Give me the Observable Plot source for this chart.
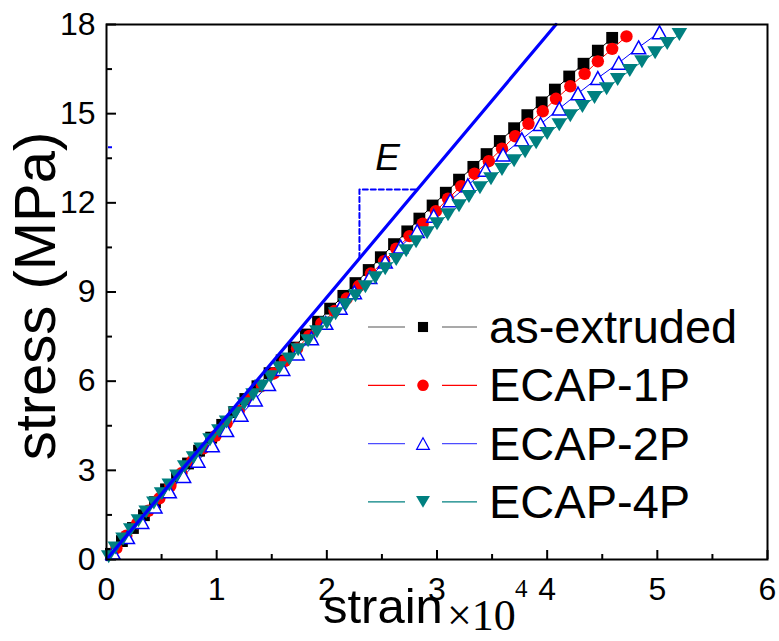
<!DOCTYPE html>
<html>
<head>
<meta charset="utf-8">
<script src="https://cdn.jsdelivr.net/npm/d3@7"></script>
<script src="https://cdn.jsdelivr.net/npm/@observablehq/plot@0.6"></script>
<style>
  body { margin: 0; background: #fff; }
  svg { display: block; }
</style>
</head>
<body>
<div id="chart"></div>
<script>
// ---------------- data (strain in 1e-4, stress in MPa) ----------------
const seriesNames = ["as-extruded", "ECAP-1P", "ECAP-2P", "ECAP-4P"];

const extrudedStrain = [0.04,0.14,0.24,0.34,0.44,0.54,0.64,0.74,0.84,0.95,1.05,1.16,1.26,1.37,1.48,1.59,1.70,1.81,1.92,2.03,2.15,2.26,2.38,2.49,2.61,2.73,2.84,2.96,3.08,3.20,3.33,3.45,3.57,3.70,3.82,3.95,4.07,4.20,4.33,4.46,4.59];
const extrudedStress = [0.19,0.62,1.06,1.49,1.93,2.36,2.79,3.23,3.66,4.10,4.53,4.96,5.40,5.83,6.27,6.70,7.13,7.57,8.00,8.44,8.87,9.30,9.74,10.17,10.61,11.04,11.47,11.91,12.34,12.78,13.21,13.64,14.08,14.51,14.95,15.38,15.81,16.25,16.68,17.12,17.55];

const ecap1Strain = [0.09,0.18,0.28,0.38,0.48,0.58,0.68,0.78,0.88,0.99,1.09,1.20,1.30,1.41,1.52,1.62,1.73,1.84,1.95,2.07,2.18,2.29,2.40,2.52,2.63,2.75,2.87,2.99,3.10,3.22,3.34,3.47,3.59,3.71,3.83,3.96,4.08,4.21,4.34,4.46,4.59,4.72];
const ecap1Stress = [0.38,0.80,1.22,1.64,2.06,2.48,2.90,3.32,3.74,4.16,4.58,5.00,5.42,5.84,6.26,6.68,7.10,7.52,7.94,8.36,8.78,9.20,9.62,10.04,10.46,10.88,11.30,11.72,12.14,12.56,12.98,13.40,13.82,14.24,14.66,15.08,15.50,15.92,16.34,16.76,17.18,17.60];

const ecap2Strain = [0.06,0.19,0.32,0.44,0.57,0.70,0.83,0.96,1.09,1.22,1.35,1.47,1.60,1.73,1.86,1.99,2.12,2.25,2.39,2.53,2.67,2.82,2.97,3.12,3.28,3.44,3.60,3.77,3.94,4.11,4.28,4.46,4.65,4.83,5.02];
const ecap2Stress = [0.23,0.75,1.26,1.78,2.29,2.81,3.32,3.84,4.35,4.87,5.38,5.90,6.41,6.93,7.44,7.96,8.47,8.99,9.50,10.02,10.53,11.05,11.56,12.08,12.59,13.11,13.62,14.14,14.65,15.17,15.68,16.20,16.71,17.23,17.74];

const ecap4Strain = [0.02,0.08,0.15,0.22,0.29,0.36,0.43,0.50,0.57,0.64,0.71,0.79,0.86,0.94,1.02,1.09,1.17,1.25,1.33,1.41,1.49,1.57,1.66,1.74,1.83,1.91,2.00,2.08,2.17,2.26,2.35,2.44,2.53,2.63,2.72,2.81,2.91,3.00,3.10,3.20,3.29,3.39,3.49,3.59,3.70,3.80,3.90,4.00,4.11,4.21,4.32,4.43,4.54,4.64,4.75,4.86,4.98,5.09,5.20];
const ecap4Stress = [0.09,0.39,0.69,1.00,1.30,1.60,1.90,2.21,2.51,2.81,3.12,3.42,3.72,4.03,4.33,4.63,4.93,5.24,5.54,5.84,6.15,6.45,6.75,7.06,7.36,7.66,7.96,8.27,8.57,8.87,9.18,9.48,9.78,10.09,10.39,10.69,10.99,11.30,11.60,11.90,12.21,12.51,12.81,13.12,13.42,13.72,14.02,14.33,14.63,14.93,15.24,15.54,15.84,16.15,16.45,16.75,17.05,17.36,17.66];

// elastic modulus guide line and its slope triangle
const modulusStrain = [0, 4.08];
const modulusStress = [0, 18];
const slopeStrain = [2.296, 2.296, 2.82];
const slopeStress = [10.14, 12.45, 12.45];
const eLabelStrain = [2.44];
const eLabelStress = [13.09];
const stray = [13.87];

// axes
const xMajorTicks = [0, 1, 2, 3, 4, 5, 6];
const xMinorTicks = [0.5, 1.5, 2.5, 3.5, 4.5, 5.5];
const yMajorTicks = [0, 3, 6, 9, 12, 15, 18];
const yMinorTicks = [1.5, 4.5, 7.5, 10.5, 13.5, 16.5];

// ---------------- build ----------------
const zipXY = (xs, ys) => xs.map((x, i) => ({x, y: ys[i]}));
const extruded = zipXY(extrudedStrain, extrudedStress);
const ecap1 = zipXY(ecap1Strain, ecap1Stress);
const ecap2 = zipXY(ecap2Strain, ecap2Stress);
const ecap4 = zipXY(ecap4Strain, ecap4Stress);
const modulus = zipXY(modulusStrain, modulusStress);
const slope = zipXY(slopeStrain, slopeStress);
const eLabel = zipXY(eLabelStrain, eLabelStress);

const symSquare = {draw(c, s) { const r = Math.sqrt(s / Math.PI) * 0.87; c.moveTo(-r, -r); c.lineTo(r, -r); c.lineTo(r, r); c.lineTo(-r, r); c.closePath(); }};
const symUp = {draw(c, s) { const r = Math.sqrt(s / Math.PI); c.moveTo(0, -r); c.lineTo(1.1 * r, r); c.lineTo(-1.1 * r, r); c.closePath(); }};
const symDown = {draw(c, s) { const r = Math.sqrt(s / Math.PI); c.moveTo(-1.2 * r, -r); c.lineTo(1.2 * r, -r); c.lineTo(0, r); c.closePath(); }};

const W = 779, H = 641, ML = 106, MR = 12, MT = 24, MB = 82;
const FW = W - ML - MR, FH = H - MT - MB;
const FONT = "'Liberation Sans', Arial, sans-serif";
const SERIF = "'Liberation Serif', 'Times New Roman', serif";

const BLACK = "#000000", RED = "#ff0000", BLUE = "#0000ff", TEAL = "#008080";

const chart = Plot.plot({
  width: W, height: H,
  marginLeft: ML, marginRight: MR, marginTop: MT, marginBottom: MB,
  style: {fontFamily: FONT, background: "white", color: "black"},
  x: {domain: [0, 6]},
  y: {domain: [0, 18]},
  marks: [
    // tick marks (inward)
    Plot.tickX(xMajorTicks, {x: d => d, insetTop: FH - 9, stroke: "black", strokeWidth: 2}),
    Plot.tickX(xMinorTicks, {x: d => d, insetTop: FH - 5, stroke: "black", strokeWidth: 2}),
    Plot.tickY(yMajorTicks, {y: d => d, insetRight: FW - 10, stroke: "black", strokeWidth: 2}),
    Plot.tickY(yMinorTicks, {y: d => d, insetRight: FW - 6, stroke: "black", strokeWidth: 2}),
    Plot.tickY(stray, {y: d => d, insetLeft: 2, insetRight: FW - 6, stroke: BLUE, strokeWidth: 2}),
    Plot.axisX(xMajorTicks, {tickSize: 0, tickPadding: 18, fontSize: 32, label: null, tickFormat: d => String(d), fill: "black"}),
    Plot.axisY(yMajorTicks, {tickSize: 0, tickPadding: 11, fontSize: 32, label: null, tickFormat: d => String(d), fill: "black"}),
    // thin series lines
    Plot.line(extruded, {x: "x", y: "y", stroke: BLACK, strokeWidth: 1}),
    Plot.line(ecap1, {x: "x", y: "y", stroke: RED, strokeWidth: 1}),
    Plot.line(ecap2, {x: "x", y: "y", stroke: BLUE, strokeWidth: 1}),
    Plot.line(ecap4, {x: "x", y: "y", stroke: TEAL, strokeWidth: 1}),
    // markers
    Plot.dot(extruded, {x: "x", y: "y", symbol: symSquare, r: 6.8, fill: BLACK}),
    Plot.dot(ecap1, {x: "x", y: "y", symbol: "circle", r: 6.2, fill: RED}),
    Plot.dot(ecap2, {x: "x", y: "y", symbol: symUp, r: 6.4, fill: "white", stroke: BLUE, strokeWidth: 1.5}),
    Plot.dot(ecap4, {x: "x", y: "y", symbol: symDown, r: 6.5, fill: TEAL}),
    // modulus line and slope triangle
    Plot.line(modulus, {x: "x", y: "y", stroke: BLUE, strokeWidth: 3.2}),
    Plot.line(slope, {x: "x", y: "y", stroke: BLUE, strokeWidth: 2, strokeDasharray: "5,3"}),
    Plot.text(eLabel, {x: "x", y: "y", text: () => "E", textAnchor: "start", lineAnchor: "bottom", fontSize: 37, fontStyle: "italic", fill: "black"}),
    Plot.frame({stroke: "black", strokeWidth: 2})
  ]
});

const svg = d3.select(chart);

// axis titles
svg.append("text")
  .attr("x", 323).attr("y", 623).attr("text-anchor", "start")
  .attr("font-family", FONT).attr("font-size", 49).attr("fill", "black")
  .text("strain");
svg.append("text")
  .attr("x", 447).attr("y", 630).attr("text-anchor", "start")
  .attr("font-family", SERIF).attr("font-size", 44).attr("fill", "black")
  .text("\u00d710");
svg.append("text")
  .attr("x", 515).attr("y", 597).attr("text-anchor", "start")
  .attr("font-family", SERIF).attr("font-size", 25).attr("fill", "black")
  .text("4");
svg.append("text")
  .attr("transform", "translate(55,296) rotate(-90)")
  .attr("text-anchor", "middle")
  .attr("font-family", FONT).attr("font-size", 58).attr("fill", "black")
  .text("stress (MPa)");

// legend
const legendRows = [
  {name: seriesNames[0], line: "#555555", sym: symSquare, fill: BLACK, stroke: "none", sw: 0},
  {name: seriesNames[1], line: RED, sym: d3.symbolCircle, fill: RED, stroke: "none", sw: 0},
  {name: seriesNames[2], line: "#4d4dff", sym: symUp, fill: "white", stroke: BLUE, sw: 1.2},
  {name: seriesNames[3], line: TEAL, sym: symDown, fill: TEAL, stroke: "none", sw: 0}
];
const lg = svg.append("g");
legendRows.forEach((d, i) => {
  const y = 327 + i * 58.3;
  lg.append("line").attr("x1", 368).attr("x2", 405).attr("y1", y).attr("y2", y).attr("stroke", d.line).attr("stroke-width", 1.2);
  lg.append("line").attr("x1", 442).attr("x2", 477).attr("y1", y).attr("y2", y).attr("stroke", d.line).attr("stroke-width", 1.2);
  lg.append("path").attr("transform", `translate(423,${y})`)
    .attr("d", d3.symbol(d.sym, Math.PI * 5.8 * 5.8)())
    .attr("fill", d.fill).attr("stroke", d.stroke).attr("stroke-width", d.sw);
  lg.append("text").attr("x", 489).attr("y", y + 16).attr("text-anchor", "start")
    .attr("font-family", FONT).attr("font-size", 47).attr("fill", "black")
    .text(d.name);
});

document.getElementById("chart").appendChild(chart);
</script>
</body>
</html>
